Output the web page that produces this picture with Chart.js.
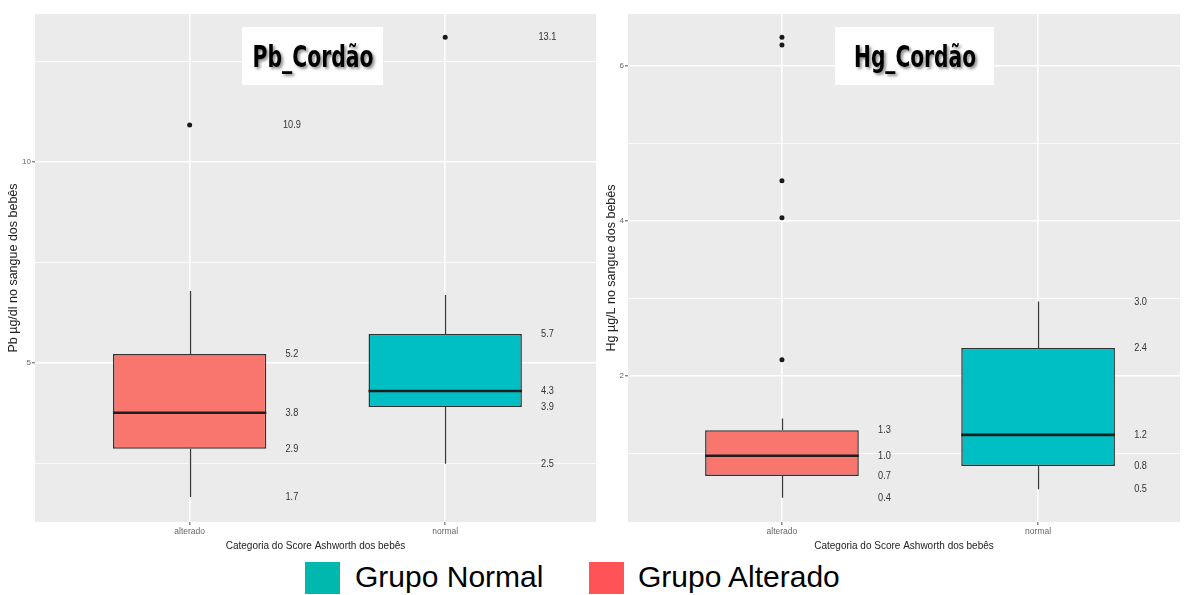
<!DOCTYPE html>
<html>
<head>
<meta charset="utf-8">
<title>Pb e Hg no sangue do cordão por categoria do Score Ashworth</title>
<script src="https://cdn.jsdelivr.net/npm/chart.js@4.4.1/dist/chart.umd.min.js"></script>
<style>
  html, body { margin: 0; padding: 0; background: #fff; width: 1184px; height: 595px; overflow: hidden;
               font-family: "Liberation Sans", Arial, sans-serif; }
  #pb { position: absolute; left: 0; top: 0; }
  #hg { position: absolute; left: 598px; top: 0; }
  .key { position: absolute; top: 562px; width: 35px; height: 32px; }
  .keytxt { position: absolute; top: 559px; font-size: 30px; line-height: 36px; color: #000; white-space: nowrap; }
</style>
</head>
<body>
<canvas id="pb" width="600" height="555"></canvas>
<canvas id="hg" width="586" height="555"></canvas>

<div class="key" style="left:305px;background:#00B8AE"></div>
<div class="keytxt" style="left:355px">Grupo Normal</div>
<div class="key" style="left:589px;background:#FF5358"></div>
<div class="keytxt" style="left:638px">Grupo Alterado</div>

<script>
// ---- groups on the x axis ----
const groups = ['alterado', 'normal'];
const groupPos = [1, 2];
const boxColors = ['#F8766D', '#00BFC4'];

// ---- Pb no sangue do cordão (µg/dl) ----
const pbLower    = [1.66, 2.49];
const pbQ1       = [2.86, 3.90];
const pbMedian   = [3.76, 4.30];
const pbQ3       = [5.22, 5.72];
const pbUpper    = [6.79, 6.69];
const pbOutliers = [[10.92], [13.10]];
const pbTicks      = [2.5, 5, 7.5, 10, 12.5];
const pbTickLabels = ['', '5', '', '10', ''];
const pbRange      = [1.04, 13.68];
// statistics printed next to each box
const pbAnnotated = [['lower', 'q1', 'median', 'q3', 'outliers'],
                     ['lower', 'q1', 'median', 'q3', 'outliers']];

// ---- Hg no sangue do cordão (µg/L) ----
const hgLower    = [0.43, 0.54];
const hgQ1       = [0.71, 0.84];
const hgMedian   = [0.97, 1.24];
const hgQ3       = [1.30, 2.36];
const hgUpper    = [1.45, 2.96];
const hgOutliers = [[2.21, 4.04, 4.52, 6.27, 6.37], []];
const hgTicks      = [1, 2, 3, 4, 5, 6];
const hgTickLabels = ['', '2', '', '4', '', '6'];
const hgRange      = [0.116, 6.67];
const hgAnnotated = [['lower', 'q1', 'median', 'q3'],
                     ['lower', 'q1', 'median', 'q3', 'upper']];

// draws panel background, heading, whiskers, medians and value labels
function boxplotExtras(stats, annotated, heading) {
  return {
    id: 'boxplotExtras',
    beforeDraw(chart) {
      const { ctx, chartArea: a } = chart;
      ctx.save();
      ctx.fillStyle = '#EBEBEB';
      ctx.fillRect(a.left, a.top, a.right - a.left, a.bottom - a.top);
      ctx.restore();
    },
    beforeDatasetsDraw(chart) {
      const { ctx, scales: { x, y } } = chart;
      ctx.save();
      // heading box
      const h = heading;
      ctx.fillStyle = '#FFFFFF';
      ctx.fillRect(h.left, h.top, h.width, h.height);
      ctx.save();
      ctx.font = 'bold 30px "Liberation Sans Narrow", "DejaVu Sans Condensed", "Liberation Sans", sans-serif';
      ctx.textAlign = 'center';
      ctx.textBaseline = 'alphabetic';
      const w = ctx.measureText(h.text).width;
      ctx.translate(h.textX, h.baseline);
      ctx.scale(h.textWidth / w, 1.02);
      ctx.shadowColor = 'rgba(0,0,0,0.45)';
      ctx.shadowBlur = 3;
      ctx.shadowOffsetX = 2;
      ctx.shadowOffsetY = 2;
      ctx.fillStyle = '#000';
      ctx.fillText(h.text, 0, 0);
      ctx.restore();
      // whiskers
      ctx.strokeStyle = '#3A3A3A';
      ctx.lineWidth = 1.3;
      groupPos.forEach((g, i) => {
        const px = Math.round(x.getPixelForValue(g)) + 0.5;
        ctx.beginPath();
        ctx.moveTo(px, y.getPixelForValue(stats.lower[i]));
        ctx.lineTo(px, y.getPixelForValue(stats.q1[i]));
        ctx.moveTo(px, y.getPixelForValue(stats.q3[i]));
        ctx.lineTo(px, y.getPixelForValue(stats.upper[i]));
        ctx.stroke();
      });
      ctx.restore();
    },
    afterDatasetsDraw(chart) {
      const { ctx, scales: { x, y } } = chart;
      const boxes = chart.getDatasetMeta(1).data;
      ctx.save();
      // medians
      ctx.strokeStyle = '#1E1E1E';
      ctx.lineWidth = 2.6;
      boxes.forEach((bar, i) => {
        const py = y.getPixelForValue(stats.median[i]);
        ctx.beginPath();
        ctx.moveTo(bar.x - bar.width / 2, py);
        ctx.lineTo(bar.x + bar.width / 2, py);
        ctx.stroke();
      });
      // value labels to the right of each box
      ctx.fillStyle = '#333';
      ctx.font = '11.5px "Liberation Sans", Arial, sans-serif';
      ctx.textAlign = 'center';
      ctx.textBaseline = 'middle';
      groupPos.forEach((g, i) => {
        const lx = x.getPixelForValue(g + 0.4);
        const vals = [];
        annotated[i].forEach(k => {
          if (k === 'outliers') vals.push(...stats.outliers[i]);
          else vals.push(stats[k][i]);
        });
        vals.forEach(v => {
          ctx.save();
          ctx.translate(lx, y.getPixelForValue(v));
          ctx.scale(0.8, 1);
          ctx.fillText(v.toFixed(1), 0, 0);
          ctx.restore();
        });
      });
      ctx.restore();
    }
  };
}

function buildPanel(canvasId, stats, annotated, yTicks, yTickLabels, yRange, xRange,
                    yTitle, yAxisWidth, padRight, heading) {
  const outlierPoints = [];
  stats.outliers.forEach((list, i) => list.forEach(v => outlierPoints.push({ x: groupPos[i], y: v })));

  return new Chart(document.getElementById(canvasId), {
    type: 'bar',
    data: {
      datasets: [
        {
          type: 'scatter',
          data: outlierPoints,
          pointRadius: 2.5,
          pointBackgroundColor: '#1A1A1A',
          pointBorderWidth: 0,
          order: 0
        },
        {
          type: 'bar',
          data: groupPos.map((g, i) => ({ x: g, y: [stats.q1[i], stats.q3[i]] })),
          backgroundColor: boxColors,
          borderColor: '#333',
          borderWidth: 1.5,
          borderSkipped: false,
          barPercentage: 0.6,
          categoryPercentage: 1,
          order: 1
        }
      ]
    },
    options: {
      responsive: false,
      animation: false,
      events: [],
      layout: { padding: { top: 14, right: padRight, left: 0, bottom: 0 } },
      plugins: { legend: { display: false }, tooltip: { enabled: false } },
      scales: {
        x: {
          type: 'linear',
          offset: false,
          min: xRange[0],
          max: xRange[1],
          afterBuildTicks: s => { s.ticks = groupPos.map(v => ({ value: v })); },
          afterFit: s => { s.height = 33; },
          ticks: {
            callback: (v, i) => groups[i],
            color: '#666',
            font: { size: 8.5, family: '"Liberation Sans", Arial, sans-serif' },
            padding: 2,
            maxRotation: 0,
            autoSkip: false
          },
          grid: { offset: false, color: '#FFFFFF', lineWidth: 1.6, tickLength: 3, tickColor: '#555', tickWidth: 1 },
          border: { display: false },
          title: {
            display: true,
            text: 'Categoria do Score Ashworth dos bebês',
            color: '#222',
            font: { size: 10, family: '"Liberation Sans", Arial, sans-serif' },
            padding: { top: 0, bottom: 3 }
          }
        },
        y: {
          min: yRange[0],
          max: yRange[1],
          afterBuildTicks: s => { s.ticks = yTicks.map(v => ({ value: v })); },
          afterFit: s => { s.width = yAxisWidth; },
          ticks: {
            callback: (v, i) => yTickLabels[i],
            color: '#666',
            font: { size: 8, family: '"Liberation Sans", Arial, sans-serif' },
            padding: 1,
            autoSkip: false
          },
          grid: {
            color: '#FFFFFF',
            lineWidth: c => (yTickLabels[c.index] ? 1.6 : 0.8),
            tickLength: 3,
            tickColor: c => (yTickLabels[c.index] ? '#555' : 'rgba(0,0,0,0)'),
            tickWidth: 1
          },
          border: { display: false },
          title: {
            display: true,
            text: yTitle,
            color: '#222',
            font: { size: 12.5, family: '"Liberation Sans", Arial, sans-serif' },
            padding: { top: 6, bottom: 0 }
          }
        }
      }
    },
    plugins: [boxplotExtras(stats, annotated, heading)]
  });
}

buildPanel('pb',
  { lower: pbLower, q1: pbQ1, median: pbMedian, q3: pbQ3, upper: pbUpper, outliers: pbOutliers },
  pbAnnotated, pbTicks, pbTickLabels, pbRange, [0.395, 2.59],
  'Pb µg/dl no sangue dos bebês', 35, 2,
  { text: 'Pb_Cordão', left: 242, top: 27, width: 141, height: 58, textX: 313, baseline: 67, textWidth: 121 });

buildPanel('hg',
  { lower: hgLower, q1: hgQ1, median: hgMedian, q3: hgQ3, upper: hgUpper, outliers: hgOutliers },
  hgAnnotated, hgTicks, hgTickLabels, hgRange, [0.399, 2.554],
  'Hg µg/L no sangue dos bebês', 30, 0,
  { text: 'Hg_Cordão', left: 237, top: 27, width: 159, height: 58, textX: 317, baseline: 67, textWidth: 122 });
</script>
</body>
</html>
